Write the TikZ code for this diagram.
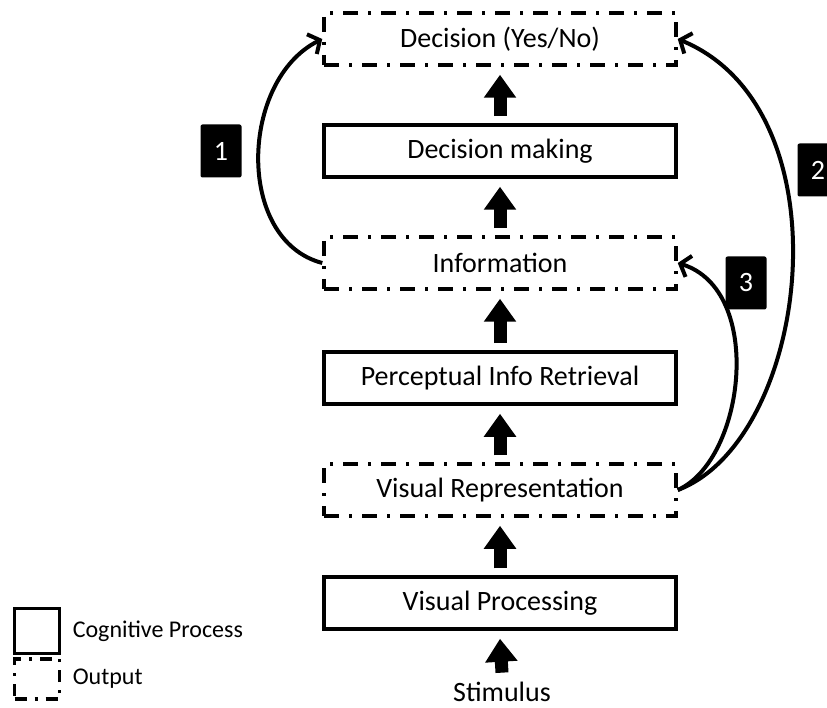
\documentclass[tikz,border=0pt]{standalone}
\usepackage{fontspec}
\setmainfont{Carlito}
\usepackage{tikz}
\usetikzlibrary{positioning,arrows.meta}

\begin{document}
\begin{tikzpicture}
            [
            x=1pt, y=-1pt,
            every node/.style={font=\fontsize{28}{32}\selectfont},
            procbox/.style={draw,line width=3.5pt,minimum width=352pt,minimum height=52pt,inner sep=0pt},
            outbox/.style={draw,line width=3.5pt,dash pattern=on 15pt off 10pt on 3pt off 10pt,minimum width=352pt,minimum height=52pt,inner sep=0pt},
            upflow/.style={line width=13pt,-{Triangle[length=23pt,width=31pt]}},
            loop/.style={line width=4pt,-{Straight Barb[length=9pt,width=22pt]}},
            numbox/.style={fill=black,rounded corners=2pt,text=white,minimum width=41pt,minimum height=53pt,inner sep=0pt}
            ]
        \useasboundingbox (0,0) rectangle (827,708);
        \clip (0,0) rectangle (827,708);
        \node[outbox] (dec) at (500,39) {Decision (Yes/No)};
        \node[procbox] (making) at (500,151) {Decision making};
        \node[outbox] (info) at (500,263) {Information};
        \node[procbox] (percep) at (500,378) {Perceptual Info Retrieval};
        \node[outbox] (visrep) at (500,490) {Visual Representation};
        \node[procbox] (visproc) at (500,603) {Visual Processing};
        \node (stim) at (502,692) {Stimulus};
        \draw[upflow] ([yshift=6pt]stim.north) -- ([yshift=-8pt]visproc.south);
        \draw[upflow] ([yshift=7pt]visproc.north) -- ([yshift=-8pt]visrep.south);
        \draw[upflow] ([yshift=7pt]visrep.north) -- ([yshift=-8pt]percep.south);
        \draw[upflow] ([yshift=7pt]percep.north) -- ([yshift=-8pt]info.south);
        \draw[upflow] ([yshift=7pt]info.north) -- ([yshift=-8pt]making.south);
        \draw[upflow] ([yshift=7pt]making.north) -- ([yshift=-8pt]dec.south);
        \draw[loop] (info.west) .. controls (235,240) and (240,80) .. (dec.west);
        \draw[loop] (visrep.east) .. controls (810,440) and (850,110) .. (dec.east);
        \draw[loop] (visrep.east) .. controls (745,460) and (765,290) .. (info.east);
        \node[numbox] (num1) at (221,151) {1};
        \node[numbox] (num2) at (818,170) {2};
        \node[numbox] (num3) at (746,283) {3};
        % legend
        \node[draw,line width=3.5pt,minimum size=45pt,inner sep=0pt] (legproc) at (37,631) {};
        \node[draw,line width=3.5pt,dash pattern=on 12pt off 8pt on 3pt off 8pt,minimum width=45pt,minimum height=40pt,inner sep=0pt] (legout) at (37,679) {};
        \node[right=8pt of legproc,font=\fontsize{24}{28}\selectfont] (legproctxt) {Cognitive Process};
        \node[right=8pt of legout,font=\fontsize{24}{28}\selectfont] (legouttxt) {Output};
        \end{tikzpicture}
\end{document}
